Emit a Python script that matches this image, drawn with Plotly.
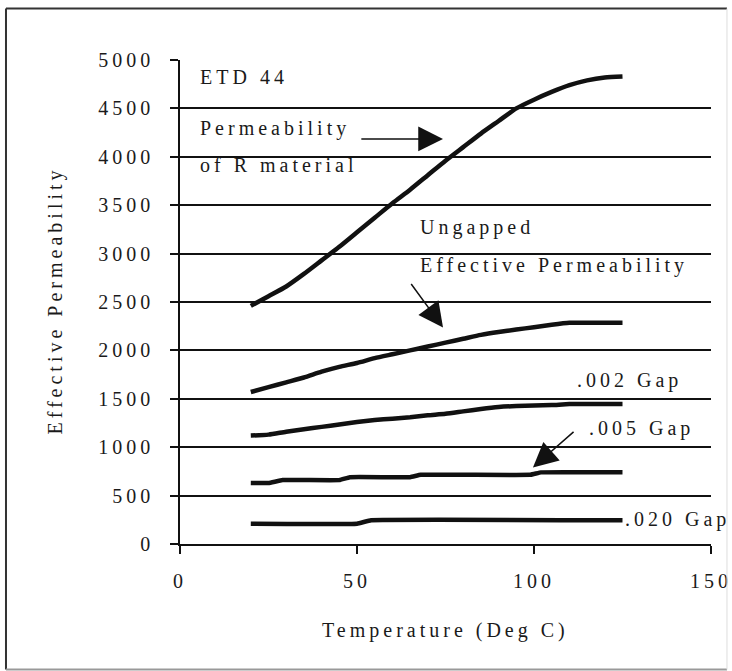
import plotly.graph_objects as go

# ---- data ----
r_x = [20, 25, 30, 35, 40, 45, 50, 55, 60, 65, 70, 75, 80, 85, 90, 95, 100, 105, 110, 115, 120, 125]
r_y = [2460, 2560, 2660, 2790, 2930, 3070, 3220, 3370, 3520, 3660, 3810, 3960, 4100, 4240, 4370, 4500,
       4590, 4670, 4740, 4790, 4820, 4830]

ung_x = [20, 25, 30, 35, 40, 45, 50, 55, 60, 65, 70, 75, 80, 85, 90, 95, 100, 105, 110, 115, 120, 125]
ung_y = [1570, 1620, 1670, 1720, 1780, 1830, 1870, 1920, 1960, 2000, 2040, 2080, 2120, 2160, 2190, 2215,
         2240, 2265, 2285, 2285, 2285, 2285]

g002_x = [20, 25, 30, 35, 40, 45, 50, 55, 60, 65, 70, 75, 80, 85, 90, 95, 100, 105, 110, 115, 120, 125]
g002_y = [1120, 1130, 1160, 1185, 1210, 1235, 1260, 1280, 1295, 1310, 1330, 1345, 1370, 1395, 1415, 1425,
          1430, 1435, 1445, 1445, 1445, 1445]

g005_x = [20, 25, 29, 45, 48, 65, 68, 99, 102, 125]
g005_y = [630, 630, 660, 660, 690, 690, 715, 715, 740, 740]

g020_x = [20, 50, 54, 125]
g020_y = [210, 210, 245, 245]

y_ticks = [0, 500, 1000, 1500, 2000, 2500, 3000, 3500, 4000, 4500, 5000]
x_ticks = [0, 50, 100, 150]

FONT = "Liberation Serif, Times New Roman, serif"
TXT = "#1a1a1a"
LS = 4


def sp(s, ls=LS):
    return f'<span style="letter-spacing:{ls}px">{s}</span>'


fig = go.Figure()
series = [(r_x, r_y, 0.6), (ung_x, ung_y, 0.6), (g002_x, g002_y, 0.6),
          (g005_x, g005_y, 0.25), (g020_x, g020_y, 0.25)]
for xs, ys, sm in series:
    fig.add_trace(go.Scatter(x=xs, y=ys, mode="lines",
                             line=dict(color="#111", width=4.5, shape="spline", smoothing=sm),
                             showlegend=False, hoverinfo="skip"))

fig.update_layout(
    width=732, height=671,
    margin=dict(l=180, r=21, t=60, b=127, autoexpand=False),
    paper_bgcolor="white", plot_bgcolor="white",
    font=dict(family=FONT, size=20, color=TXT),
    showlegend=False,
)

fig.update_xaxes(
    range=[0, 150], tickvals=x_ticks, ticktext=[sp(str(v)) for v in x_ticks],
    showgrid=False, zeroline=False, showline=True, linecolor="#111", linewidth=1.5,
    ticks="outside", ticklen=8, tickwidth=1.5, tickcolor="#111", automargin=False,
    tickfont=dict(family=FONT, size=20, color=TXT), ticklabelstandoff=10,
)
fig.update_yaxes(
    range=[0, 5000], tickvals=y_ticks, ticktext=[sp(str(v)) for v in y_ticks],
    showgrid=True, gridcolor="#111", gridwidth=1.5, zeroline=False,
    showline=True, linecolor="#111", linewidth=1.5, automargin=False,
    ticks="outside", ticklen=8, tickwidth=1.5, tickcolor="#111",
    tickfont=dict(family=FONT, size=20, color=TXT), ticklabelstandoff=12,
)

# text labels
labels = [
    ("ETD 44", 5.1, 4820),
    ("Permeability", 5.1, 4292),
    ("of R material", 5.1, 3915),
    ("Ungapped", 67.2, 3270),
    ("Effective Permeability", 67.2, 2872),
    (".002 Gap", 111.5, 1694),
    (".005 Gap", 115.0, 1198),
    (".020 Gap", 125.1, 248),
]
for t, x, y in labels:
    fig.add_annotation(x=x, y=y, xref="x", yref="y", text=sp(t), showarrow=False,
                       xanchor="left", yanchor="middle", font=dict(family=FONT, size=20, color=TXT))

# arrows (tip x,y ; tail ax,ay)
arrows = [
    (74.3, 4184, 50.8, 4184),
    (74.3, 2236, 65.0, 2701),
    (99.7, 790, 111.6, 1172),
]
for x, y, ax, ay in arrows:
    fig.add_annotation(x=x, y=y, ax=ax, ay=ay, xref="x", yref="y", axref="x", ayref="y",
                       text="", showarrow=True, arrowhead=2, arrowsize=3.3, arrowwidth=1.5,
                       arrowcolor="#111", standoff=0, startstandoff=0)

# axis titles
fig.add_annotation(x=-0.2335, y=0.503, xref="paper", yref="paper", text=sp("Effective Permeability"),
                   textangle=-90, showarrow=False, xanchor="center", yanchor="middle",
                   font=dict(family=FONT, size=20, color=TXT))
fig.add_annotation(x=0.5, y=-0.1787, xref="paper", yref="paper", text=sp("Temperature (Deg C)"),
                   showarrow=False, xanchor="center", yanchor="middle",
                   font=dict(family=FONT, size=20, color=TXT))

# outer frame
L, R, T, B = -0.3277, 1.0301, 1.1064, -0.2593
fig.add_shape(type="line", xref="paper", yref="paper", x0=L, x1=R, y0=T, y1=T, line=dict(color="#333", width=2))
fig.add_shape(type="line", xref="paper", yref="paper", x0=L, x1=L, y0=T, y1=B, line=dict(color="#333", width=2))
fig.add_shape(type="line", xref="paper", yref="paper", x0=L, x1=R, y0=B, y1=B, line=dict(color="#999", width=2))
fig.add_shape(type="line", xref="paper", yref="paper", x0=R, x1=R, y0=T, y1=B, line=dict(color="#ddd", width=1))

fig.write_html("out.html")
